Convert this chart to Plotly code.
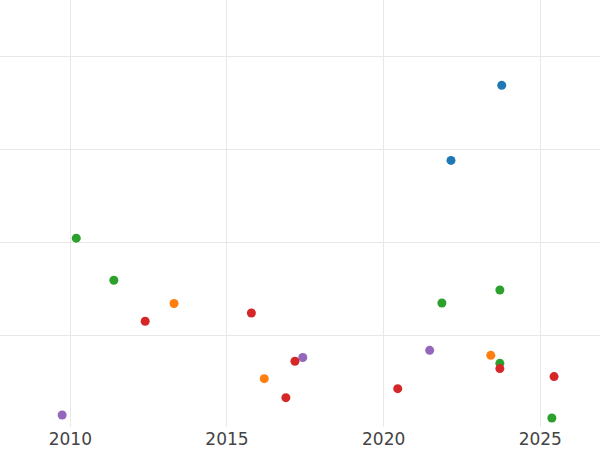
import plotly.graph_objects as go

# Data per category (x = year, y = value)
blue_x = [2023.77, 2022.15]
blue_y = [369.2, 288.3]

orange_x = [2013.31, 2016.19, 2023.42]
orange_y = [134.2, 53.3, 78.4]

green_x = [2010.19, 2011.39, 2021.86, 2023.71, 2023.71, 2025.37]
green_y = [204.6, 159.3, 134.8, 148.8, 69.8, 10.9]

purple_x = [2009.74, 2017.42, 2021.47]
purple_y = [14.1, 76.0, 83.8]

red_x = [2012.39, 2015.78, 2017.17, 2016.88, 2020.45, 2023.71, 2025.44]
red_y = [115.1, 124.0, 72.0, 32.8, 42.5, 64.1, 55.5]

x_tickvals = [2010, 2015, 2020, 2025]
x_ticktext = ["2010", "2015", "2020", "2025"]
y_tickvals = [100, 200, 300, 400]

series = [
    ("blue", blue_x, blue_y, "#1f77b4"),
    ("orange", orange_x, orange_y, "#ff7f0e"),
    ("green", green_x, green_y, "#2ca02c"),
    ("purple", purple_x, purple_y, "#9467bd"),
    ("red", red_x, red_y, "#d62728"),
]

fig = go.Figure()
for name, xs, ys, col in series:
    fig.add_trace(go.Scatter(x=xs, y=ys, mode="markers", name=name,
                             marker=dict(color=col, size=9)))

fig.update_layout(
    width=600, height=450,
    paper_bgcolor="white", plot_bgcolor="white",
    showlegend=False,
    margin=dict(l=0, r=0, t=0, b=23),
    font=dict(family="DejaVu Sans", size=17, color="#444"),
)
fig.update_xaxes(range=[2007.756, 2026.906], tickvals=x_tickvals, ticktext=x_ticktext,
                 showgrid=True, gridcolor="#e8e8e8", gridwidth=1, zeroline=False,
                 showline=False, ticks="")
fig.update_yaxes(range=[1.2, 461.1], tickvals=y_tickvals, showticklabels=False,
                 showgrid=True, gridcolor="#e8e8e8", gridwidth=1, zeroline=False,
                 showline=False, ticks="")

fig.write_html("out.html", config={"displayModeBar": False},
               post_script="document.body.style.margin='0';")
